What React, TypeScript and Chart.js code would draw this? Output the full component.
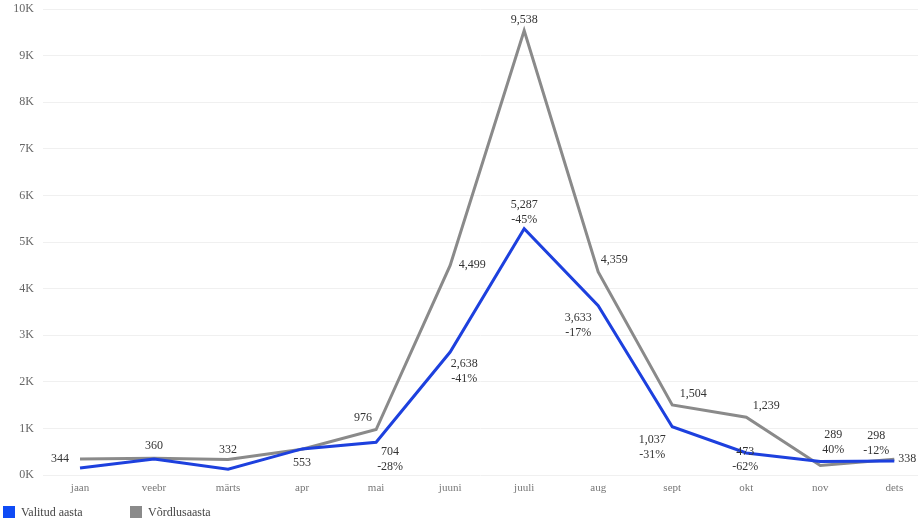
import React, { useEffect, useRef } from "react";
import { Chart, registerables } from "chart.js";

Chart.register(...registerables);

const months = ["jaan", "veebr", "märts", "apr", "mai", "juuni", "juuli", "aug", "sept", "okt", "nov", "dets"];
const selectedYear = [150, 345, 125, 560, 704, 2638, 5287, 3633, 1037, 473, 289, 298];
const comparisonYear = [344, 360, 332, 553, 976, 4499, 9538, 4359, 1504, 1239, 206, 338];
const yTicks = [0, 1000, 2000, 3000, 4000, 5000, 6000, 7000, 8000, 9000, 10000];
const yTickLabels = ["0K", "1K", "2K", "3K", "4K", "5K", "6K", "7K", "8K", "9K", "10K"];
const showSelectedLabel = [false, false, false, false, true, true, true, true, true, true, true, true];
const showComparisonLabel = [true, true, true, true, true, true, true, true, true, true, false, true];

// label placement offsets (style only): [dx, dy] of the label text centre from the point
const comparisonLabelOffset: [number, number][] = [
  [-20, 0], [0, -12], [0, -10], [0, 14], [-13, -12], [22, -1], [0, -11], [16, -12], [21, -11], [20, -11], [0, 0], [13, 0],
];
const selectedLabelOffset: [number, number][] = [
  [0, 0], [0, 0], [0, 0], [0, 0], [14, 10], [14, 12], [0, -24], [-20, 12], [-20, 13], [-1, -1], [13, -27], [-18, -25],
];

const BLUE = "#1d40de";
const GRAY = "#8a8a8a";
const FONT = "'Liberation Serif', 'Times New Roman', serif";

const fmt = (v: number) => v.toLocaleString("en-US");

const labelPlugin = {
  id: "pointLabels",
  afterDatasetsDraw(chart: any) {
    const ctx = chart.ctx;
    ctx.save();
    ctx.font = `12px ${FONT}`;
    ctx.fillStyle = "#333333";
    ctx.textAlign = "center";
    ctx.textBaseline = "middle";
    const metaSel = chart.getDatasetMeta(0);
    const metaCmp = chart.getDatasetMeta(1);
    comparisonYear.forEach((v, i) => {
      if (!showComparisonLabel[i]) return;
      const p = metaCmp.data[i];
      const [dx, dy] = comparisonLabelOffset[i];
      ctx.fillText(fmt(v), p.x + dx, p.y + dy);
    });
    selectedYear.forEach((v, i) => {
      if (!showSelectedLabel[i]) return;
      const p = metaSel.data[i];
      const [dx, dy] = selectedLabelOffset[i];
      const pct = Math.round((v / comparisonYear[i] - 1) * 100);
      ctx.fillText(fmt(v), p.x + dx, p.y + dy);
      ctx.fillText(`${pct}%`, p.x + dx, p.y + dy + 15);
    });
    ctx.restore();
  },
};

const legendPlugin = {
  id: "customLegend",
  afterDraw(chart: any) {
    const ctx = chart.ctx;
    ctx.save();
    ctx.font = `12px ${FONT}`;
    ctx.textBaseline = "middle";
    ctx.textAlign = "left";
    const items = [
      { label: "Valitud aasta", color: "#0f4bf5", x: 3 },
      { label: "Võrdlusaasta", color: GRAY, x: 130 },
    ];
    items.forEach((it) => {
      ctx.fillStyle = it.color;
      ctx.fillRect(it.x, 506, 12, 12);
      ctx.fillStyle = "#444444";
      ctx.fillText(it.label, it.x + 18, 513);
    });
    ctx.restore();
  },
};

export default function App() {
  const ref = useRef<HTMLCanvasElement | null>(null);

  useEffect(() => {
    document.body.style.margin = "0";
    if (!ref.current) return;
    const chart = new Chart(ref.current, {
      type: "line",
      data: {
        datasets: [
          {
            label: "Valitud aasta",
            data: selectedYear.map((v, i) => ({ x: i, y: v })),
            borderColor: BLUE,
            backgroundColor: BLUE,
            borderWidth: 3,
            pointRadius: 0,
            tension: 0,
          },
          {
            label: "Võrdlusaasta",
            data: comparisonYear.map((v, i) => ({ x: i, y: v })),
            borderColor: GRAY,
            backgroundColor: GRAY,
            borderWidth: 3,
            pointRadius: 0,
            tension: 0,
          },
        ],
      },
      options: {
        animation: false,
        responsive: false,
        maintainAspectRatio: false,
        layout: { padding: { top: 9, left: 0, right: 0, bottom: 0 } },
        plugins: {
          legend: { display: false },
          tooltip: { enabled: false },
        },
        scales: {
          x: {
            type: "linear",
            min: -0.5,
            max: 11.32,
            grid: { display: false, drawTicks: false },
            border: { display: false },
            afterBuildTicks: (scale: any) => {
              scale.ticks = months.map((_, i) => ({ value: i }));
            },
            afterFit: (scale: any) => {
              scale.height = 43;
              scale.paddingLeft = 0;
              scale.paddingRight = 0;
            },
            ticks: {
              autoSkip: false,
              maxRotation: 0,
              padding: 7,
              color: "#777777",
              font: { family: FONT, size: 11 },
              callback: (v: any) => months[Number(v)] ?? "",
            },
          },
          y: {
            min: 0,
            max: 10000,
            afterBuildTicks: (scale: any) => {
              scale.ticks = yTicks.map((v) => ({ value: v }));
            },
            afterFit: (scale: any) => {
              scale.width = 43;
              scale.paddingTop = 0;
              scale.paddingBottom = 0;
            },
            grid: { color: "#f0f0f0", drawTicks: false },
            border: { display: false },
            ticks: {
              padding: 9,
              color: "#666666",
              font: { family: FONT, size: 12 },
              callback: (v: any) => yTickLabels[yTicks.indexOf(Number(v))] ?? "",
            },
          },
        },
      },
      plugins: [labelPlugin, legendPlugin],
    });
    return () => chart.destroy();
  }, []);

  return (
    <div style={{ width: 918, height: 518, position: "relative", background: "#fff" }}>
      <canvas ref={ref} width={918} height={518} style={{ display: "block" }} />
    </div>
  );
}
